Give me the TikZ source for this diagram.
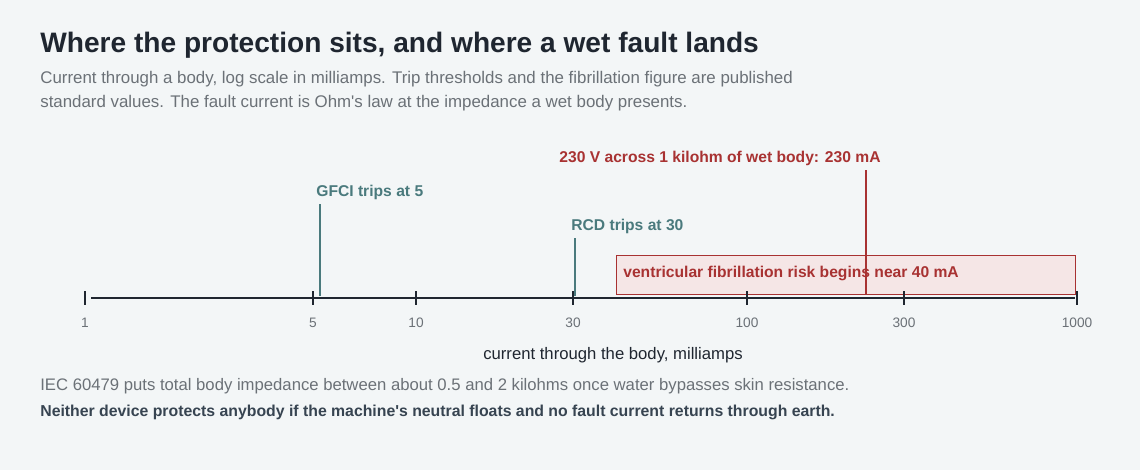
\documentclass[tikz,border=0pt]{standalone}
\usepackage{fontspec}
\setmainfont{Liberation Sans}
\definecolor{bg}{HTML}{F3F6F7}
\definecolor{ink}{HTML}{1F2630}
\definecolor{muted}{HTML}{6B7177}
\definecolor{teal}{HTML}{4A7A7D}
\definecolor{brick}{HTML}{A83232}
\definecolor{slate}{HTML}{374451}
\begin{document}
\begin{tikzpicture}[x=0.02cm,y=-0.02cm]
    \tikzstyle{every node}=[inner sep=0pt,anchor=base west];
    \tikzstyle{tick}=[draw=ink,thick];
    \tikzstyle{ticklabel}=[anchor=base,text=muted,font=\fontsize{7.8pt}{9pt}\selectfont];
    \tikzstyle{callout}=[font=\bfseries\fontsize{8.9pt}{10pt}\selectfont];
    \fill[bg] (0,0) rectangle (1140,470);
    \useasboundingbox (0,0) rectangle (1140,470);
    % headings
    \node (title) at (40,52) [text=ink,font=\bfseries\fontsize{16pt}{18pt}\selectfont] {Where the protection sits, and where a wet fault lands};
    \node (sub1) at (40,83) [text=muted,font=\fontsize{9.6pt}{11pt}\selectfont] {Current through a body, log scale in milliamps. Trip thresholds and the fibrillation figure are published};
    \node (sub2) at (40,107) [text=muted,font=\fontsize{9.6pt}{11pt}\selectfont] {standard values. The fault current is Ohm\textquotesingle s law at the impedance a wet body presents.};
    % fibrillation band
    \draw[brick,fill=brick!12] (616,255) rectangle (1075,294);
    \node (fib) at (623,277) [callout,text=brick] {ventricular fibrillation risk begins near 40 mA};
    % axis
    \coordinate (a1) at (91,298);
    \coordinate (a1000) at (1075,298);
    \draw[ink,line width=1.4pt] (a1) -- (a1000);
    \foreach \v/\x in {1/85,5/313,10/416,30/573,100/747,300/904,1000/1077} {
        \draw[tick] (\x,291) -- (\x,305);
        \node at (\x,327) [ticklabel] {\v};
    }
    \node (axl) at (613,359) [anchor=base,text=ink,font=\fontsize{9.5pt}{11pt}\selectfont] {current through the body, milliamps};
    % thresholds
    \coordinate (g5) at (320,296);
    \coordinate (r30) at (575,296);
    \coordinate (w230) at (866,294);
    \draw[teal,line width=1.3pt] (g5) -- (320,204);
    \node (gfci) at (316,196) [callout,text=teal] {GFCI trips at 5};
    \draw[teal,line width=1.3pt] (r30) -- (575,238);
    \node (rcd) at (571,230) [callout,text=teal] {RCD trips at 30};
    \draw[brick,line width=1.6pt] (w230) -- (866,170);
    \node (wet) at (720,162) [callout,text=brick,anchor=base] {230 V across 1 kilohm of wet body: 230 mA};
    % notes
    \node (n1) at (40,390) [text=muted,font=\fontsize{9.5pt}{11pt}\selectfont] {IEC 60479 puts total body impedance between about 0.5 and 2 kilohms once water bypasses skin resistance.};
    \node (n2) at (40,416) [text=slate,font=\bfseries\fontsize{9pt}{11pt}\selectfont] {Neither device protects anybody if the machine\textquotesingle s neutral floats and no fault current returns through earth.};
\end{tikzpicture}
\end{document}
